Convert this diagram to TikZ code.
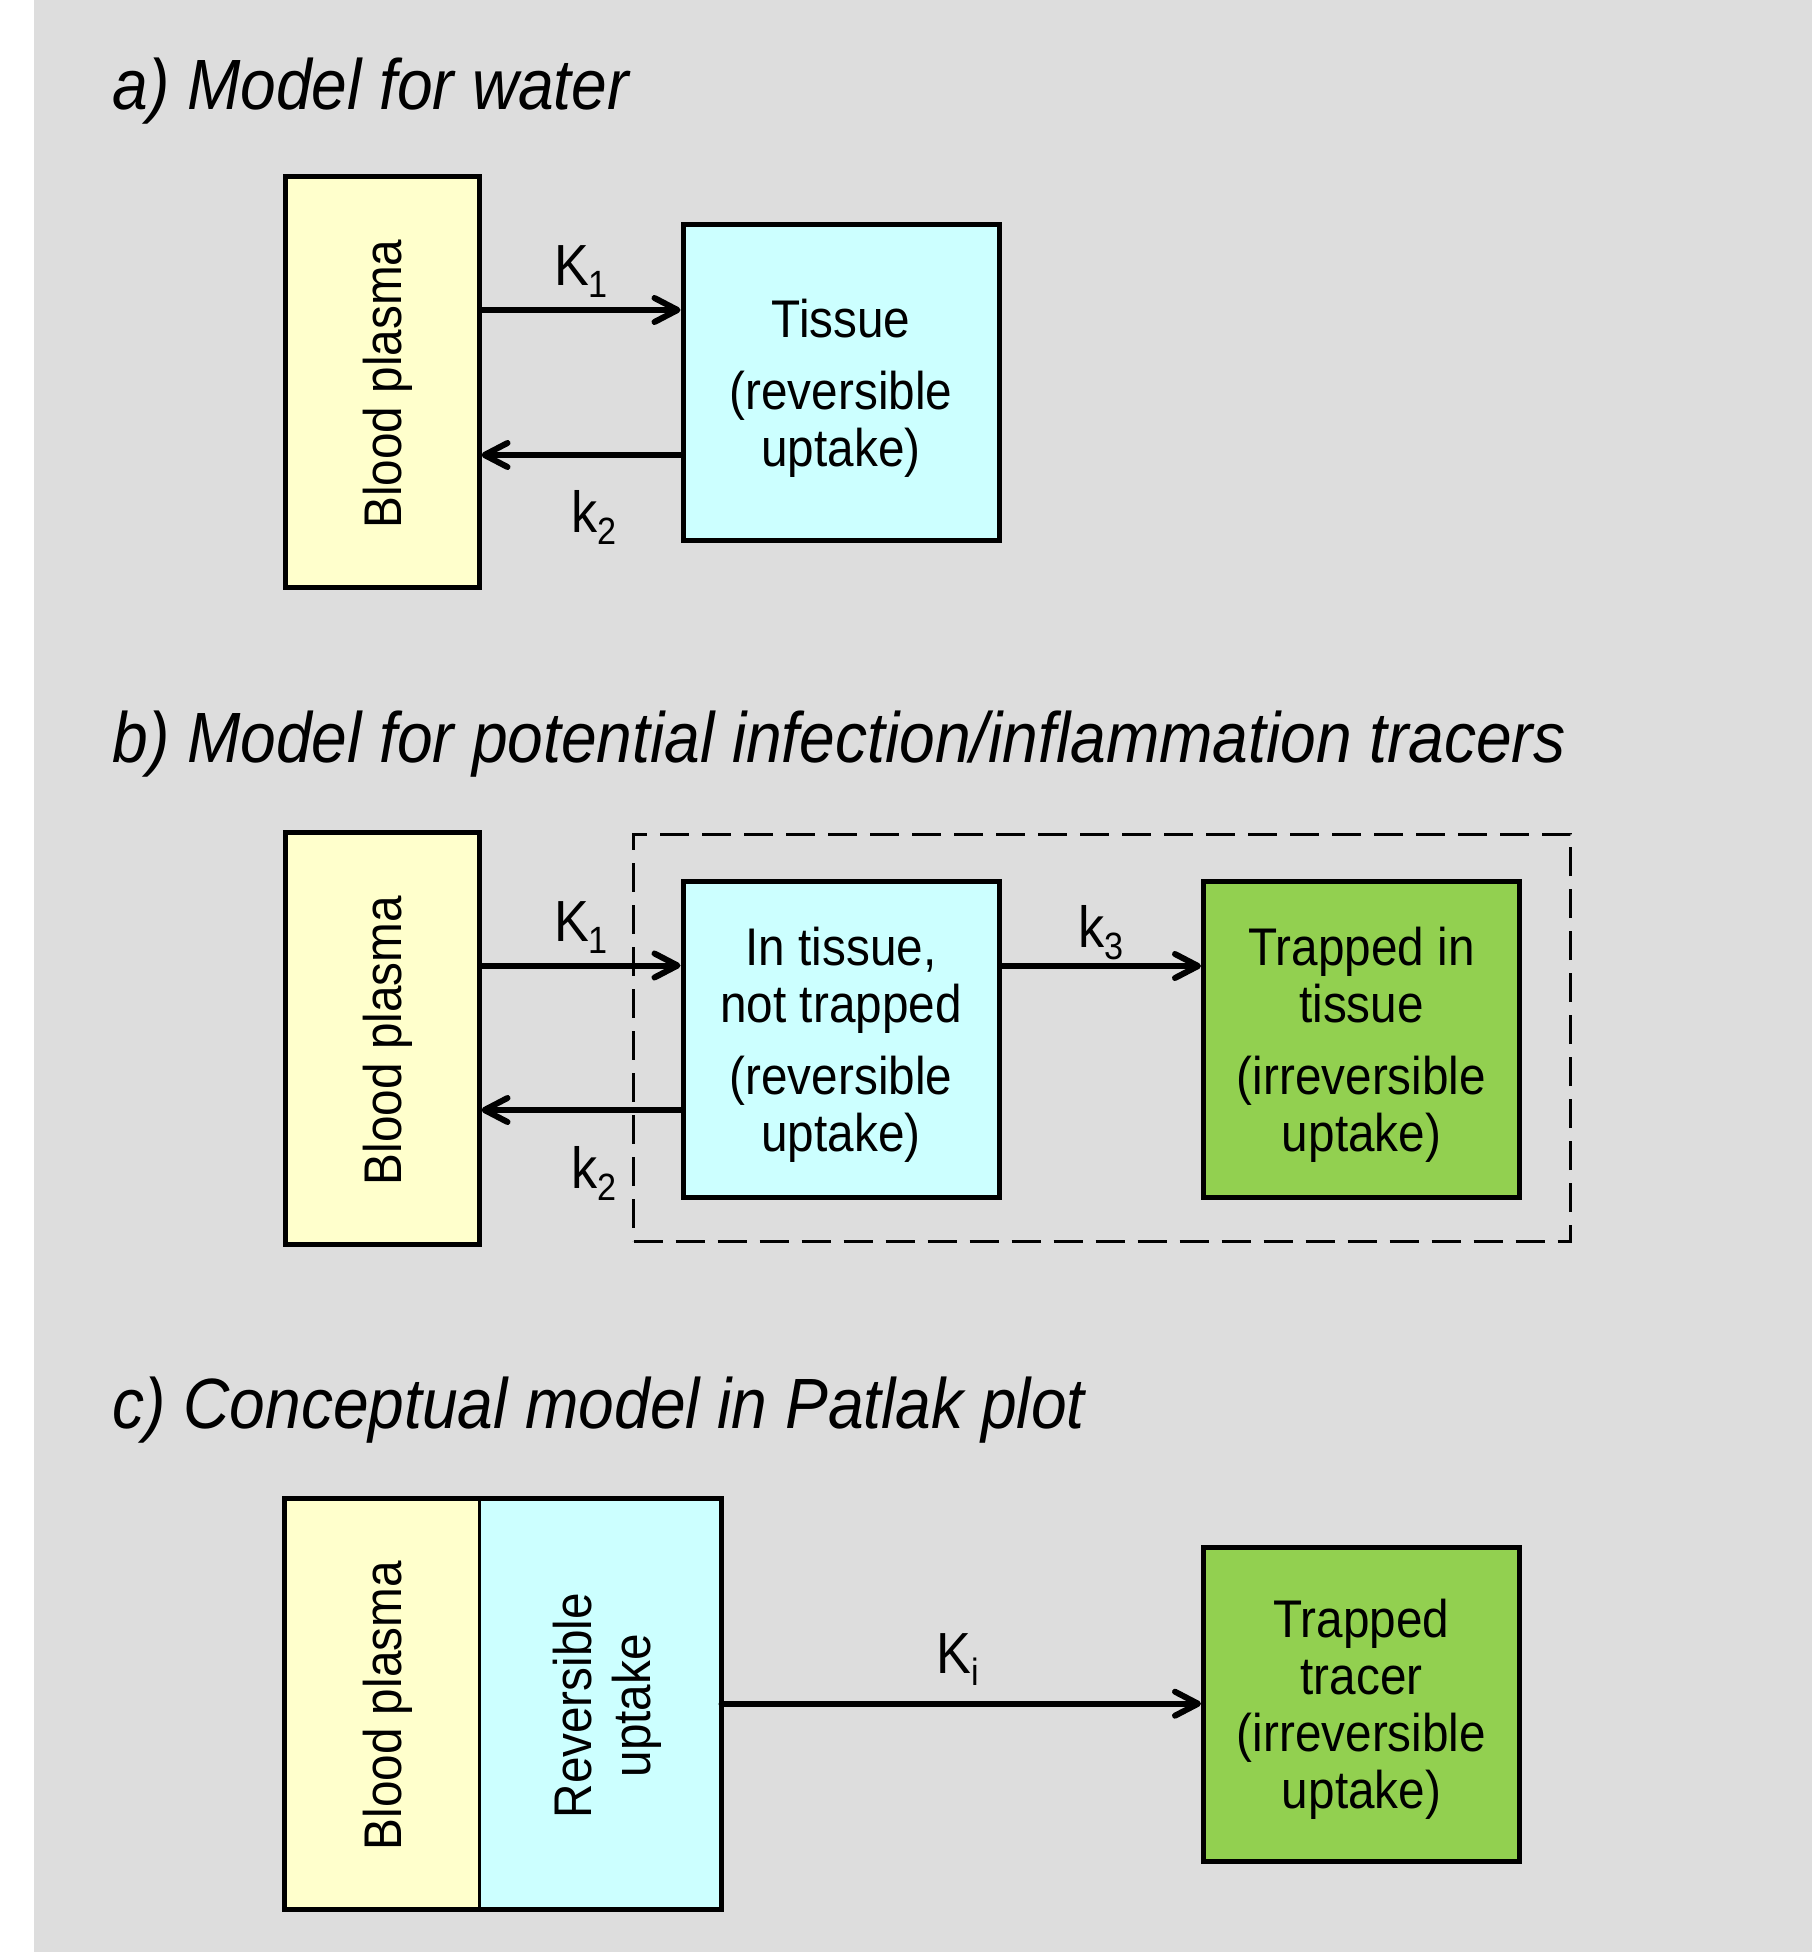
\documentclass[tikz,border=0pt]{standalone}
\usepackage{fontspec}
\setmainfont{Liberation Sans}[FakeStretch=0.9]
\usetikzlibrary{arrows.meta}
\definecolor{bggray}{HTML}{DDDDDD}
\definecolor{plasma}{HTML}{FFFFCC}
\definecolor{tissuec}{HTML}{CCFFFF}
\definecolor{trappedc}{HTML}{92D050}
\newcommand{\rsub}[1]{\raisebox{-6pt}{\fontsize{19}{19}\selectfont #1}}
\begin{document}
\begin{tikzpicture}[x=0.5pt,y=-0.5pt,
  boxtext/.style={font={\fontsize{26.5}{28.5}\selectfont}},
  cbox/.style={draw=black, line width=2.5pt, inner sep=0pt},
  plasmabox/.style={cbox, fill=plasma, minimum width=97pt, minimum height=205pt},
  sqbox/.style={cbox, minimum width=158pt, minimum height=158pt},
  intext/.style={inner sep=0pt, align=center, boxtext},
  rottext/.style={rotate=90, inner sep=0pt, align=center, boxtext},
  ratelabel/.style={inner sep=0pt, font={\fontsize{29}{30}\selectfont}},
  paneltitle/.style={inner sep=0pt, anchor=base west, font={\fontsize{35.6}{40}\selectfont\itshape}},
  arr/.style={line width=3pt, line cap=round, -{Straight Barb[length=11.5pt,width=12pt,line cap=round,line join=round]}},
  groupbox/.style={draw=black, line width=1.5pt, dash pattern=on 14.5pt off 6.5pt, inner sep=0pt}
]
\useasboundingbox (0,0) rectangle (1812,1952);
\fill[white] (0,0) rectangle (1812,1952);
\fill[bggray] (34,0) rectangle (1812,1952);

% ---------- a) ----------
\node[paneltitle] (ta) at (112,109.5) {a) Model for water};
\node[plasmabox] (bpa) at (382,382) {};
\node[rottext] (bpat) at ([xshift=3pt,yshift=-1pt]bpa.center) {Blood plasma};
\node[sqbox, fill=tissuec, minimum height=157.5pt] (tisa) at (841,382.5) {};
\node[intext] (tisat) at ([yshift=-3pt]tisa.center) {Tissue\\[7.5pt](reversible\\uptake)};
\coordinate (a1) at ([yshift=36pt]bpa.east);
\coordinate (a2) at ([yshift=-36.5pt]bpa.east);
\draw[arr] (a1) -- (a1 -| tisa.west);
\draw[arr] (a2 -| tisa.west) -- (a2);
\node[ratelabel] (K1a) at (581,272) {K\rsub{1}};
\node[ratelabel] (k2a) at (594,517) {k\rsub{2}};

% ---------- b) ----------
\node[paneltitle] (tb) at (112,762.5) {b) Model for potential infection/inflammation tracers};
\node[groupbox, minimum width=468.5pt, minimum height=203.5pt] (grpb) at (1102,1037.5) {};
\node[plasmabox, minimum height=206pt] (bpb) at (382,1038.5) {};
\node[rottext] (bpbt) at ([xshift=3pt,yshift=-1pt]bpb.center) {Blood plasma};
\node[sqbox, fill=tissuec] (tisb) at (841,1039) {};
\node[intext] (tisbt) at ([yshift=-3pt]tisb.center) {In tissue,\\not trapped\\[7.5pt](reversible\\uptake)};
\node[sqbox, fill=trappedc] (trb) at (1361.5,1039) {};
\node[intext] (trbt) at ([yshift=-3pt]trb.center) {Trapped in\\tissue\\[7.5pt](irreversible\\uptake)};
\coordinate (b1) at ([yshift=36.5pt]bpb.east);
\coordinate (b2) at ([yshift=-35.75pt]bpb.east);
\coordinate (b3) at ([yshift=36.5pt]tisb.east);
\draw[arr] (b1) -- (b1 -| tisb.west);
\draw[arr] (b2 -| tisb.west) -- (b2);
\draw[arr] (b3) -- (b3 -| trb.west);
\node[ratelabel] (K1b) at (581,928) {K\rsub{1}};
\node[ratelabel] (k2b) at (594,1173) {k\rsub{2}};
\node[ratelabel] (k3b) at (1101,933) {k\rsub{3}};

% ---------- c) ----------
\node[paneltitle] (tc) at (112,1428.5) {c) Conceptual model in Patlak plot};
\node[fill=plasma, inner sep=0pt, minimum width=97pt, minimum height=205.3pt] (bpc) at (382,1703.7) {};
\node[fill=tissuec, inner sep=0pt, minimum width=120.8pt, minimum height=205.3pt] (revc) at (600.3,1703.7) {};
\draw[line width=1.5pt] (bpc.north east) -- (bpc.south east);
\draw[line width=2.5pt] (bpc.north west) rectangle (revc.south east);
\node[rottext] (bpct) at ([xshift=3pt,yshift=-1pt]bpc.center) {Blood plasma};
\node[rottext] (revct) at ([xshift=3.5pt,yshift=-1pt]revc.center) {Reversible\\[1pt]uptake};
\node[sqbox, fill=trappedc, minimum height=157.4pt] (trc) at (1361.5,1704.4) {};
\node[intext] (trct) at ([yshift=-2.5pt]trc.center) {Trapped\\tracer\\(irreversible\\uptake)};
\draw[arr] (revc.east) -- (revc.east -| trc.west);
\node[ratelabel] (Kic) at (958,1660) {K\rsub{i}};
\end{tikzpicture}
\end{document}
